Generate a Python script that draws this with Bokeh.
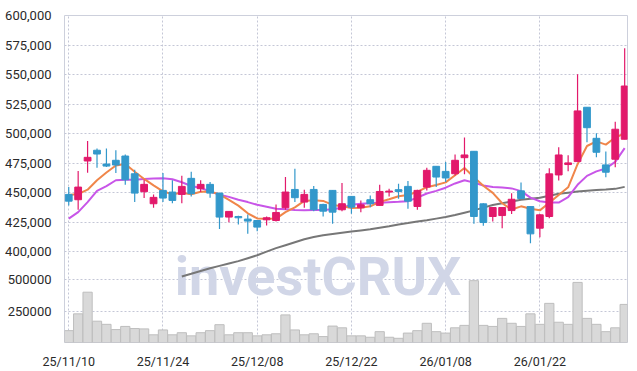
from bokeh.plotting import figure
from bokeh.models import ColumnDataSource, FixedTicker, Range1d, Label
from bokeh.embed import file_html
from bokeh.resources import INLINE

dates = ["25/11/10", "25/11/11", "25/11/12", "25/11/13", "25/11/14", "25/11/17", "25/11/18", "25/11/19", "25/11/20", "25/11/21",
         "25/11/24", "25/11/25", "25/11/26", "25/11/27", "25/11/28", "25/12/01", "25/12/02", "25/12/03", "25/12/04", "25/12/05",
         "25/12/08", "25/12/09", "25/12/10", "25/12/11", "25/12/12", "25/12/15", "25/12/16", "25/12/17", "25/12/18", "25/12/19",
         "25/12/22", "25/12/23", "25/12/24", "25/12/26", "25/12/29", "25/12/30", "26/01/02", "26/01/05", "26/01/06", "26/01/07",
         "26/01/08", "26/01/09", "26/01/12", "26/01/13", "26/01/14", "26/01/15", "26/01/16", "26/01/19", "26/01/20", "26/01/21",
         "26/01/22", "26/01/23", "26/01/26", "26/01/27", "26/01/28", "26/01/29", "26/01/30", "26/02/02", "26/02/03", "26/02/04"]

opens = [448500, 444000, 476800, 485900, 474200, 477400, 481000, 466000, 450800, 440600,
         451900, 450500, 448500, 462100, 453300, 457000, 449600, 429300, 429800, 427600,
         426400, 427000, 426400, 437200, 452700, 442000, 452700, 440000, 451900, 435500,
         446800, 437200, 444000, 439200, 450500, 452500, 455300, 438300, 454700, 472300,
         468000, 466000, 479600, 485000, 440500, 429800, 430600, 434800, 451500, 438200,
         419900, 429800, 465000, 473800, 476300, 522300, 496000, 473500, 478300, 495200]
highs = [454700, 468300, 493800, 487300, 487300, 485900, 482200, 469400, 460900, 448500,
         466600, 460400, 464300, 467700, 460400, 459000, 450000, 434100, 430400, 431500,
         426400, 429800, 440000, 463200, 470300, 452500, 455600, 440600, 452000, 458100,
         446800, 443400, 447600, 456700, 453300, 457500, 459800, 452500, 471100, 472300,
         475900, 482200, 496600, 485000, 441100, 437400, 437400, 449500, 458500, 438200,
         432000, 470700, 488400, 481700, 550200, 522300, 500300, 484800, 510100, 572200]
lows = [439100, 435500, 466900, 471100, 471700, 466600, 456700, 442000, 445400, 437200,
        442000, 441100, 441100, 446800, 450500, 445700, 419300, 425000, 423000, 415100,
        417400, 422200, 425500, 435500, 442000, 437200, 434300, 429800, 423600, 434300,
        432100, 433500, 437700, 439200, 446800, 444800, 436300, 435500, 451900, 454700,
        459000, 464600, 465500, 423600, 421900, 425500, 419900, 432000, 445000, 407200,
        412300, 428400, 460200, 468100, 476300, 492700, 480000, 463000, 471500, 495200]
closes = [442800, 454700, 479900, 482700, 472500, 473400, 460900, 449600, 457000, 446000,
          445400, 443400, 455300, 449100, 457000, 449600, 429300, 434100, 428700, 425900,
          420800, 428700, 433200, 450500, 445700, 448500, 435500, 434300, 433500, 440600,
          437700, 439700, 440600, 451000, 451300, 451000, 442800, 451900, 468900, 463200,
          462400, 477400, 481900, 429800, 424700, 437400, 437400, 444400, 445000, 415100,
          431200, 465900, 481900, 475200, 519200, 505000, 484200, 467300, 503700, 540300]
volumes = [94400, 227800, 400000, 169400, 144400, 102800, 127800, 111100, 108300, 61100,
           100000, 61100, 77800, 52800, 77800, 94400, 141700, 61100, 77800, 77800,
           52800, 61100, 69400, 219400, 100000, 61100, 69400, 47000, 130600, 116700,
           52800, 52800, 41700, 86100, 41700, 33300, 75000, 94400, 152800, 86100,
           75000, 116700, 136100, 491700, 136100, 127800, 191700, 152800, 127800, 227800,
           144400, 311100, 161100, 144400, 477800, 191700, 144400, 86100, 116700, 302800]
ma5 = [448000, 448800, 452500, 460500, 467000, 473000, 474200, 467700, 461600, 456200,
       451100, 448700, 449900, 448700, 450700, 451000, 448500, 443900, 439000, 432500,
       428200, 427800, 428000, 433500, 437500, 443000, 443500, 443000, 439600, 438400,
       437000, 437200, 438400, 442200, 444400, 447000, 448000, 450700, 454600, 456500,
       458700, 464700, 470900, 463000, 455800, 449800, 441000, 435700, 438400, 436300,
       435000, 441400, 448000, 454500, 474100, 489500, 493400, 490700, 496700, 500200]
ma10 = [428000, 433500, 442000, 451500, 455500, 460500, 461000, 461000, 461500, 462000,
        462100, 461300, 458800, 455600, 454000, 451000, 448300, 446400, 444000, 442000,
        439700, 438100, 436300, 436000, 435200, 435000, 435300, 435300, 436000, 437200,
        439700, 440500, 441000, 441500, 441900, 442200, 442800, 445800, 449300, 451500,
        454200, 457800, 460500, 458500, 456000, 454800, 454300, 453600, 451300, 445800,
        442700, 441600, 441600, 446200, 456600, 464200, 468000, 470500, 476000, 487700]
ma60_start = 12
ma60 = [379000, 381300, 383700, 386000, 388000, 390000, 392000, 394500,
        397000, 400000, 403000, 405500, 408000, 410500, 412500, 414000, 415000, 416000,
        417000, 418000, 419000, 420300, 421500, 423000, 424200, 425500, 426700, 428000,
        429300, 431000, 433000, 435000, 437300, 439500, 441000, 442500, 443900, 444800,
        445600, 447300, 449000, 450000, 450900, 451600, 452300, 452700, 453200, 454900]
x_ticks = [0, 10, 20, 30, 40, 50]
price_ticks = [400000, 425000, 450000, 475000, 500000, 525000, 550000, 575000, 600000]
volume_ticks = [250000, 500000]

UP = "#E2196B"
DOWN = "#3398CB"
GRID = "#C4C7D6"
OUTLINE = "#CDD0DC"
FONT = "Roboto"

# price panel occupies the upper part of the frame, volume panel the lower part
P_START, P_END = 323100, 600000
V_END = 2600000

n = len(dates)
xs = list(range(n))
colors = [UP if c >= o else DOWN for o, c in zip(opens, closes)]
src = ColumnDataSource(dict(
    x=xs, open=opens, high=highs, low=lows, close=closes,
    top=[max(o, c) for o, c in zip(opens, closes)],
    bottom=[min(o, c) for o, c in zip(opens, closes)],
    color=colors, vol=volumes, ma5=ma5, ma10=ma10,
))
src60 = ColumnDataSource(dict(x=list(range(ma60_start, ma60_start + len(ma60))), y=ma60))

p = figure(width=637, height=371, x_range=Range1d(-0.45, 59.3), y_range=Range1d(P_START, P_END),
           output_backend="svg", toolbar_location=None,
           min_border_left=64, min_border_right=10, min_border_top=15, min_border_bottom=28)
p.extra_y_ranges = {"vol": Range1d(0, V_END)}
p.outline_line_color = OUTLINE
p.background_fill_color = "white"

wm = Label(x=11.25, y=378800, text="investCRUX", text_font=FONT, text_font_style="bold",
           text_font_size="54px", text_color="#D1D6E7", text_baseline="alphabetic", level="underlay")
p.add_layout(wm)

p.vbar(x="x", top="vol", bottom=0, width=0.98, source=src, fill_color="#D9D9D9",
       line_color="#BEBEBE", y_range_name="vol")
p.line("x", "y", source=src60, line_color="#777777", line_width=2)
p.line("x", "ma10", source=src, line_color="#C855E8", line_width=2)
p.line("x", "ma5", source=src, line_color="#F0864A", line_width=2)
p.segment("x", "high", "x", "low", source=src, line_color="color", line_width=1.2)
p.vbar(x="x", top="top", bottom="bottom", width=0.72, source=src, fill_color="color", line_color="color")

# volume tick positions expressed on the shared left axis
vol_pos = [round(P_START + v / V_END * (P_END - P_START)) for v in volume_ticks]
p.yaxis.ticker = FixedTicker(ticks=vol_pos + price_ticks)
overrides = {t: f"{t:,}" for t in price_ticks}
overrides.update({pos: str(v) for pos, v in zip(vol_pos, volume_ticks)})
p.yaxis.major_label_overrides = overrides

p.xaxis.ticker = FixedTicker(ticks=x_ticks)
p.xaxis.major_label_overrides = {i: dates[i] for i in x_ticks}
for ax in (p.xaxis, p.yaxis):
    ax.axis_line_color = None
    ax.major_tick_line_color = None
    ax.minor_tick_line_color = None
    ax.major_label_text_font = FONT
    ax.major_label_text_color = "#2A2A2A"
p.yaxis.major_label_text_font_size = "13px"
p.xaxis.major_label_text_font_size = "12.5px"
p.yaxis.major_label_standoff = 7
p.xaxis.major_label_standoff = 5
for g in (p.xgrid, p.ygrid):
    g.grid_line_color = GRID
    g.grid_line_dash = "2 2"

open("out.html", "w").write(file_html(p, INLINE))
